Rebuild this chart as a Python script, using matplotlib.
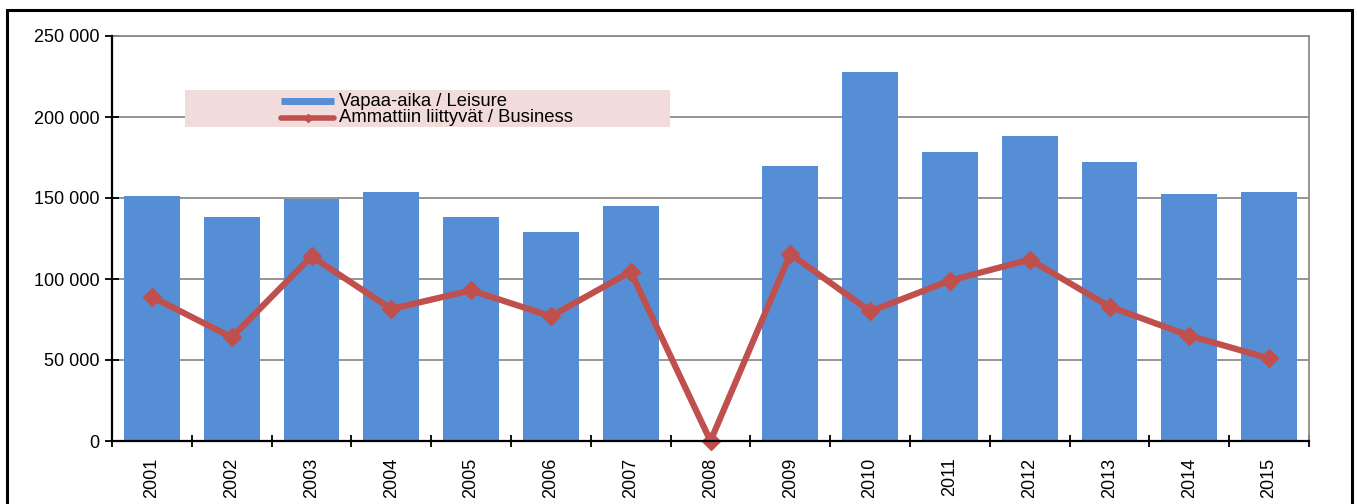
import matplotlib
matplotlib.use('Agg')
import matplotlib.pyplot as plt
from matplotlib.lines import Line2D
from matplotlib.patches import Rectangle
import numpy as np

plt.rcParams['font.family'] = ['Liberation Sans', 'DejaVu Sans']

years = ['2001', '2002', '2003', '2004', '2005', '2006', '2007', '2008',
         '2009', '2010', '2011', '2012', '2013', '2014', '2015']
leisure = [151000, 138000, 149500, 154000, 138000, 129000, 145000, 0,
           170000, 228000, 178500, 188500, 172000, 152500, 154000]
business = [89000, 64000, 114000, 81500, 93000, 77000, 104500, 0,
            115500, 80000, 99000, 112000, 83000, 65000, 51000]
labels = ['Vapaa-aika / Leisure', 'Ammattiin liittyvät / Business']

bar_col = '#558ed5'
line_col = '#c0504d'

W, H = 1357, 504
fig = plt.figure(figsize=(W / 100, H / 100), dpi=100)

# outer chart frame
fig.patches.append(Rectangle((7 / W, -0.1), (1352 - 7) / W, 1.1 - 10 / H,
                             transform=fig.transFigure, fill=False,
                             edgecolor='black', lw=2.2))

ax = fig.add_axes([112 / W, 1 - 441 / H, (1309 - 112) / W, (441 - 36) / H])
x = np.arange(len(years))

ax.bar(x, leisure, width=0.7, color=bar_col, zorder=2)
ax.plot(x, business, color=line_col, lw=4.5, marker='D', markersize=9,
        zorder=3, clip_on=False)

ax.set_xlim(-0.5, len(years) - 0.5)
ax.set_ylim(0, 250000)
yt = np.arange(0, 250001, 50000)
ax.set_yticks(yt)
ax.set_yticklabels([f'{int(v):,}'.replace(',', ' ') for v in yt], fontsize=13)
ax.grid(axis='y', color='#8c8c8c', lw=1.3, zorder=1)

ax.set_xticks(x)
ax.set_xticklabels(years, rotation=90, fontsize=13)
ax.set_xticks(np.arange(-0.5, len(years)), minor=True)
ax.tick_params(axis='x', which='major', length=0, pad=12)
ax.tick_params(axis='x', which='minor', direction='inout', length=8, width=1.3)
ax.tick_params(axis='y', direction='inout', length=10, width=1.3, pad=4)

for s in ['left', 'bottom']:
    ax.spines[s].set_color('black')
    ax.spines[s].set_linewidth(1.6)
    ax.spines[s].set_zorder(4)
for s in ['top', 'right']:
    ax.spines[s].set_color('#8c8c8c')
    ax.spines[s].set_linewidth(1.3)

# legend, drawn by hand on a pink band
fig.patches.append(Rectangle((185 / W, 1 - 127 / H), (670 - 185) / W, 37 / H,
                             transform=fig.transFigure, facecolor='#f2dcdb',
                             edgecolor='none', zorder=5))
rows = [101, 118]
fig.lines.append(Line2D([281 / W, 334 / W], [1 - rows[0] / H] * 2, color=bar_col,
                        lw=5, solid_capstyle='butt', transform=fig.transFigure, zorder=6))
fig.lines.append(Line2D([281 / W, 334 / W], [1 - rows[1] / H] * 2, color=line_col,
                        lw=4, solid_capstyle='round', transform=fig.transFigure, zorder=6))
fig.lines.append(Line2D([307.5 / W], [1 - rows[1] / H], color=line_col, marker='D',
                        markersize=4, transform=fig.transFigure, zorder=7))
for r, lab in zip(rows, labels):
    fig.text(339 / W, 1 - r / H, lab, fontsize=13.3, va='center', ha='left', zorder=7)

fig.savefig('out.png', dpi=100)
